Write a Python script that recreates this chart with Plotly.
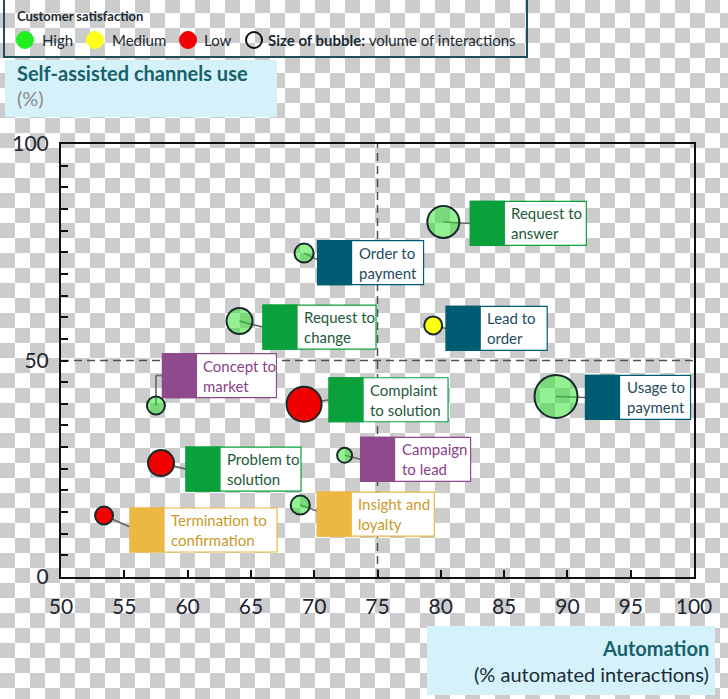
import zlib, struct, base64
import plotly.graph_objects as go

# ---------------- data ----------------
processes = ["Request to<br>answer", "Order to<br>payment", "Request to<br>change", "Lead to<br>order",
             "Concept to<br>market", "Complaint<br>to solution", "Usage to<br>payment", "Campaign<br>to lead",
             "Problem to<br>solution", "Insight and<br>loyalty", "Termination to<br>confirmation"]
automation = [80.2, 69.2, 64.1, 79.4, 57.5, 69.2, 89.1, 72.4, 57.9, 68.9, 53.4]
self_assisted = [82.0, 74.8, 59.1, 58.1, 39.6, 39.9, 41.7, 28.1, 26.3, 16.6, 14.2]
satisfaction = ["High", "High", "High", "Medium", "High", "Low", "High", "High", "Low", "High", "Low"]
volume = [32, 19, 26, 18, 18, 35, 43, 15, 26, 19, 18]
process_group = ["green", "teal", "green", "teal", "purple", "green", "teal", "purple", "green", "gold", "gold"]

x_ticks = [50, 55, 60, 65, 70, 75, 80, 85, 90, 95, 100]
y_ticks = list(range(0, 101, 5))
y_labels = {0: "0", 50: "50", 100: "100"}

# ---------------- styles ----------------
FONT = "Lato"
sat_fill = {"High": "rgba(40,225,40,0.5)", "Medium": "rgb(255,255,16)", "Low": "rgb(242,0,0)"}
group_fill = {"green": "#0AA13C", "teal": "#005C73", "purple": "#8E4A8C", "gold": "#EDB743"}
group_text = {"green": "#1D5A3A", "teal": "#1F4C62", "purple": "#8B3F8A", "gold": "#C99A28"}
# label box layout: (dx to box left, dy box centre below bubble, box width) in pixels
box_layout = [(27, 1.5, 116), (13.5, 9.5, 106), (23.5, 6, 113), (13, 3, 101), (6.5, -30, 114),
              (25, -4.5, 119), (29.5, 1, 105), (16, 4, 110), (25, 6, 115), (17, 9, 117), (26, 14.5, 147)]
BOX_H = 44
SQ_W = 34

W, H = 728, 699
L, T, PW, PH = 61, 144, 633, 433


def px(x):
    return (x - L) / PW


def py(y):
    return (T + PH - y) / PH


# ---------------- checkerboard background ----------------
def checker_png():
    rows = {}
    for r in (0, 1):
        row = bytearray(b"\x00")
        for x in range(W):
            g = ((x // 15) + r) % 2
            row += b"\xcc\xcc\xcc" if g else b"\xff\xff\xff"
        rows[r] = bytes(row)
    raw = b"".join(rows[((y + 2) // 15) % 2] for y in range(H))

    def chunk(tag, data):
        c = struct.pack(">I", len(data)) + tag + data
        return c + struct.pack(">I", zlib.crc32(tag + data) & 0xFFFFFFFF)

    png = b"\x89PNG\r\n\x1a\n" + chunk(b"IHDR", struct.pack(">IIBBBBB", W, H, 8, 2, 0, 0, 0)) \
        + chunk(b"IDAT", zlib.compress(raw, 9)) + chunk(b"IEND", b"")
    return "data:image/png;base64," + base64.b64encode(png).decode()


fig = go.Figure()

fig.add_trace(go.Scatter(
    x=automation, y=self_assisted, mode="markers",
    marker=dict(size=volume, sizemode="diameter", opacity=1,
                color=[sat_fill[s] for s in satisfaction],
                line=dict(color="#18292B", width=2)),
    hoverinfo="skip", cliponaxis=False))

shapes = []
annotations = []

# reference dashed lines
shapes.append(dict(type="line", xref="x", yref="y", x0=75, x1=75, y0=0, y1=100,
                   line=dict(color="#505050", width=1.5, dash="8px,5px"), layer="below"))
shapes.append(dict(type="line", xref="x", yref="y", x0=50, x1=100, y0=50, y1=50,
                   line=dict(color="#505050", width=1.5, dash="8px,5px"), layer="below"))

for i, name in enumerate(processes):
    bx, by = automation[i], self_assisted[i]
    dx, dy, bw = box_layout[i]
    col = group_fill[process_group[i]]
    common = dict(xref="x", yref="y", xsizemode="pixel", ysizemode="pixel", xanchor=bx, yanchor=by)
    # connector
    if dy < -20:
        shapes.append(dict(type="line", **common, x0=0, y0=0, x1=0, y1=-dy,
                           line=dict(color="#666666", width=1.6), layer="below"))
        shapes.append(dict(type="line", **common, x0=0, y0=-dy, x1=dx, y1=-dy,
                           line=dict(color="#666666", width=1.6), layer="below"))
    else:
        shapes.append(dict(type="line", **common, x0=0, y0=0, x1=dx, y1=-dy + (3 if dy > 8 else 0),
                           line=dict(color="#666666", width=1.6), layer="below"))
    # white box
    shapes.append(dict(type="rect", **common, x0=dx, x1=dx + bw, y0=-dy - BOX_H / 2, y1=-dy + BOX_H / 2,
                       fillcolor="white", line=dict(color=col, width=1.2), layer="above"))
    # coloured square
    shapes.append(dict(type="rect", **common, x0=dx, x1=dx + SQ_W, y0=-dy - BOX_H / 2, y1=-dy + BOX_H / 2,
                       fillcolor=col, line=dict(color=col, width=1.2), layer="above"))
    annotations.append(dict(x=bx, y=by, xref="x", yref="y", text=name, showarrow=False,
                            xanchor="left", yanchor="middle", align="left",
                            xshift=dx + SQ_W + 5, yshift=-dy,
                            font=dict(family=FONT, size=15, color=group_text[process_group[i]])))

# ---------------- legend box (top) ----------------
shapes.append(dict(type="rect", xref="paper", yref="paper", x0=px(4), x1=px(527), y0=py(-5), y1=py(57),
                   fillcolor="rgba(0,0,0,0)", line=dict(color="#1F4E5A", width=2), layer="above"))
annotations.append(dict(x=px(15), y=py(16), xref="paper", yref="paper", showarrow=False,
                        text="<b>Customer satisfaction</b>", xanchor="left", yanchor="middle",
                        font=dict(family=FONT, size=13, color="#1B2B35")))
leg_items = [("High", "#22EE22", 25, 40), ("Medium", "#FFFF1E", 95, 110), ("Low", "#F00000", 188, 202)]
for lab, c, cx, tx in leg_items:
    shapes.append(dict(type="circle", xref="paper", yref="paper", xsizemode="pixel", ysizemode="pixel",
                       xanchor=px(cx), yanchor=py(40), x0=-8.5, x1=8.5, y0=-8.5, y1=8.5,
                       fillcolor=c, line=dict(color=c, width=1), layer="above"))
    annotations.append(dict(x=px(tx), y=py(40), xref="paper", yref="paper", showarrow=False, text=lab,
                            xanchor="left", yanchor="middle", font=dict(family=FONT, size=15, color="#1B2B35")))
shapes.append(dict(type="circle", xref="paper", yref="paper", xsizemode="pixel", ysizemode="pixel",
                   xanchor=px(254), yanchor=py(40), x0=-8, x1=8, y0=-8, y1=8,
                   fillcolor="rgba(0,0,0,0)", line=dict(color="#111111", width=2), layer="above"))
annotations.append(dict(x=px(266), y=py(40), xref="paper", yref="paper", showarrow=False,
                        text="<b>Size of bubble:</b> volume of interactions",
                        xanchor="left", yanchor="middle", font=dict(family=FONT, size=15, color="#1B2B35")))

# ---------------- axis title boxes ----------------
shapes.append(dict(type="rect", xref="paper", yref="paper", x0=px(5), x1=px(277), y0=py(60), y1=py(117),
                   fillcolor="#D5F2FB", line=dict(width=0), layer="above"))
annotations.append(dict(x=px(15), y=py(73), xref="paper", yref="paper", showarrow=False,
                        text="<b>Self-assisted channels use</b>", xanchor="left", yanchor="middle",
                        font=dict(family=FONT, size=20, color="#17606C")))
annotations.append(dict(x=px(15), y=py(98), xref="paper", yref="paper", showarrow=False,
                        text="(%)", xanchor="left", yanchor="middle",
                        font=dict(family=FONT, size=20, color="#8A8A8A")))
shapes.append(dict(type="rect", xref="paper", yref="paper", x0=px(427), x1=px(715), y0=py(626), y1=py(695),
                   fillcolor="#D5F2FB", line=dict(width=0), layer="above"))
annotations.append(dict(x=px(711), y=py(648), xref="paper", yref="paper", showarrow=False,
                        text="<b>Automation</b>", xanchor="right", yanchor="middle",
                        font=dict(family=FONT, size=20, color="#17606C")))
annotations.append(dict(x=px(711), y=py(674), xref="paper", yref="paper", showarrow=False,
                        text="(% automated interactions)", xanchor="right", yanchor="middle",
                        font=dict(family=FONT, size=20, color="#1B2B35")))

fig.update_layout(
    width=W, height=H,
    margin=dict(l=L, r=W - L - PW, t=T, b=H - T - PH, pad=0),
    paper_bgcolor="white", plot_bgcolor="rgba(0,0,0,0)",
    showlegend=False, font=dict(family=FONT, color="#1B2531"),
    shapes=shapes, annotations=annotations,
    images=[dict(source=checker_png(), xref="paper", yref="paper", x=px(0), y=py(0),
                 sizex=W / PW, sizey=H / PH, xanchor="left", yanchor="top",
                 sizing="stretch", layer="below")],
    xaxis=dict(range=[50, 100], tickvals=x_ticks, ticktext=[str(v) for v in x_ticks],
               ticks="inside", ticklen=7, tickwidth=2, tickcolor="#111111",
               showline=True, linecolor="#111111", linewidth=2, mirror=True,
               showgrid=False, zeroline=False, ticklabelstandoff=10,
               tickfont=dict(family=FONT, size=21, color="#1B2531")),
    yaxis=dict(range=[0, 100], tickvals=y_ticks, ticktext=[y_labels.get(v, "") for v in y_ticks],
               ticks="inside", ticklen=7, tickwidth=2, tickcolor="#111111",
               showline=True, linecolor="#111111", linewidth=2, mirror=True,
               showgrid=False, zeroline=False, ticklabelstandoff=6,
               tickfont=dict(family=FONT, size=21, color="#1B2531")),
)

fig.write_html("out.html", config={"displayModeBar": False},
               post_script="document.body.style.margin='0';")
